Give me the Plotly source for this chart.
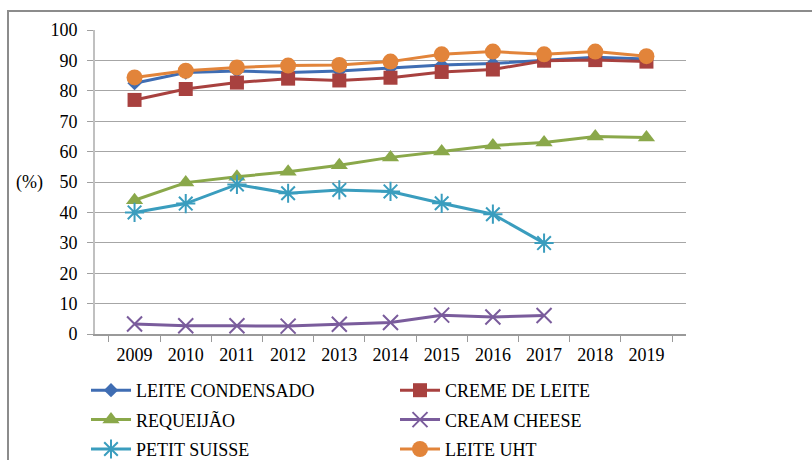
import plotly.graph_objects as go

years = ["2009", "2010", "2011", "2012", "2013", "2014", "2015", "2016", "2017", "2018", "2019"]
leite_condensado = [82.5, 86, 86.5, 86, 86.5, 87.5, 88.5, 89, 90, 91, 90.5]
creme_de_leite = [77, 80.6, 82.7, 84, 83.4, 84.3, 86.2, 87, 89.9, 90.1, 89.6]
requeijao = [44, 49.8, 51.7, 53.4, 55.5, 58.1, 60, 62, 63, 65, 64.6]
cream_cheese = [3.3, 2.7, 2.7, 2.6, 3.2, 3.8, 6.2, 5.6, 6.1, None, None]
petit_suisse = [40, 42.9, 49.2, 46.3, 47.4, 46.9, 43, 39.4, 29.9, None, None]
leite_uht = [84.4, 86.6, 87.7, 88.3, 88.5, 89.6, 92, 92.9, 92, 92.9, 91.4]

yticks = [0, 10, 20, 30, 40, 50, 60, 70, 80, 90, 100]

FONT = "Liberation Serif"

series = [
    ("LEITE CONDENSADO", leite_condensado, "#3F6DB3", "diamond", 11, "legend", 0),
    ("CREME DE LEITE", creme_de_leite, "#A8413F", "square", 14, "legend2", 0),
    ("REQUEIJÃO", requeijao, "#8AA84A", "triangle-up", 15, "legend", 1),
    ("CREAM CHEESE", cream_cheese, "#7A5C9C", "x-thin-open", 15, "legend2", 1),
    ("PETIT SUISSE", petit_suisse, "#3A9DBE", "asterisk-open", 16, "legend", 2),
    ("LEITE UHT", leite_uht, "#E2843A", "circle", 16, "legend2", 2),
]

fig = go.Figure()
for name, vals, color, sym, size, leg, rank in series:
    thin = sym in ("x-thin-open", "asterisk-open")
    fig.add_trace(go.Scatter(
        x=years, y=vals, name=name, mode="lines+markers",
        line=dict(color=color, width=3),
        marker=dict(symbol=sym, size=size, color=color,
                    line=dict(color=color, width=2 if thin else 0)),
        legend=leg, legendgroup=name, legendrank=rank,
        connectgaps=False,
    ))

L, R, T, B = 95, 126, 30, 126
W, H = 812, 460
pw, ph = W - L - R, H - T - B

def px_x(x):
    return (x - L) / pw

def px_y(y):
    return (H - B - y) / ph

legend_common = dict(
    font=dict(family=FONT, size=18, color="#000000"),
    bgcolor="rgba(0,0,0,0)", borderwidth=0,
    orientation="v", itemwidth=40, tracegroupgap=3,
    xanchor="left", yanchor="top",
)

fig.update_layout(
    width=W, height=H,
    margin=dict(l=L, r=R, t=T, b=B, autoexpand=False),
    paper_bgcolor="white", plot_bgcolor="white",
    font=dict(family=FONT, size=18, color="#000000"),
    showlegend=True,
    legend=dict(x=px_x(86), y=px_y(372), **legend_common),
    legend2=dict(x=px_x(395), y=px_y(372), **legend_common),
    xaxis=dict(
        type="category", tickson="boundaries", ticks="outside", ticklen=6,
        tickcolor="#9a9a9a", showline=True, linecolor="#9a9a9a", linewidth=1.5,
        showgrid=False, tickfont=dict(family=FONT, size=18),
        ticklabelstandoff=4,
    ),
    yaxis=dict(
        range=[0, 100], tickvals=yticks, ticks="outside", ticklen=6,
        tickcolor="#a0a0a0", showline=True, linecolor="#c0c0c0", linewidth=2,
        showgrid=True, gridcolor="#a6a6a6", gridwidth=1, zeroline=False,
        tickfont=dict(family=FONT, size=18), ticklabelstandoff=6,
    ),
    annotations=[dict(
        text="(%)", xref="paper", yref="y", x=px_x(45), y=50,
        xanchor="right", yanchor="middle", showarrow=False,
        font=dict(family=FONT, size=18, color="#000000"),
    )],
    shapes=[dict(
        type="rect", xref="paper", yref="paper",
        x0=px_x(8), x1=px_x(830), y0=px_y(480), y1=px_y(11),
        line=dict(color="#8c8c8c", width=2), fillcolor="rgba(0,0,0,0)",
        layer="below",
    )],
)

fig.write_html("out.html")
